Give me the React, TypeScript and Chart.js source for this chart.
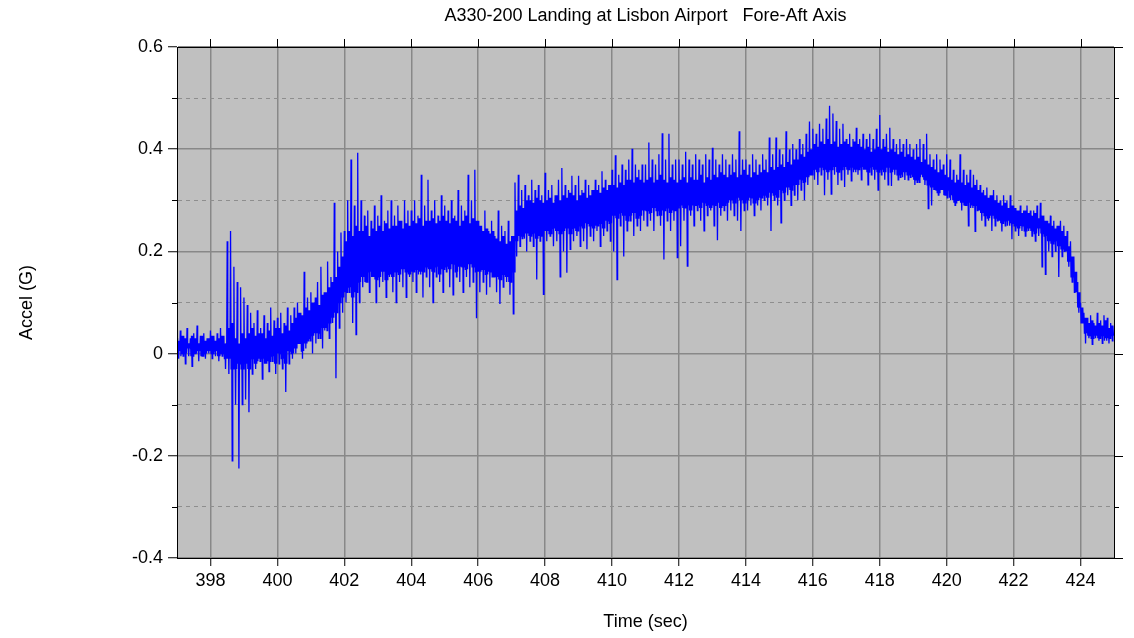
import React, { useEffect, useRef } from 'react';
import { Chart, registerables } from 'chart.js';

Chart.register(...registerables);

const TITLE = 'A330-200 Landing at Lisbon Airport   Fore-Aft Axis';
const X_LABEL = 'Time (sec)';
const Y_LABEL = 'Accel (G)';
const X_MIN = 397;
const X_MAX = 425;
const Y_MIN = -0.4;
const Y_MAX = 0.6;
const X_TICKS = [398, 400, 402, 404, 406, 408, 410, 412, 414, 416, 418, 420, 422, 424];
const Y_TICKS = [-0.4, -0.3, -0.2, -0.1, 0, 0.1, 0.2, 0.3, 0.4, 0.5, 0.6];

// sampling grid of the read-off trace (seconds)
const T_START = 397;
const T_STEP = 0.1;

// upper excursions (spikes) read per 0.1 s slot
const PEAKS = [
  0.03, 0.045, 0.035, 0.05, 0.03, 0.04, 0.055, 0.035, 0.04, 0.03, 0.045, 0.035, 0.04, 0.05, 0.035,
  0.22, 0.24, 0.17, 0.14, 0.13, 0.11, 0.095, 0.08,
  0.06, 0.085, 0.05, 0.075, 0.06, 0.09, 0.065, 0.07, 0.08, 0.06, 0.09, 0.075,
  0.09, 0.1, 0.08, 0.16, 0.11, 0.12, 0.1,
  0.14, 0.17, 0.12, 0.18, 0.15,
  0.295, 0.2, 0.237,
  0.24, 0.3, 0.38, 0.29, 0.393, 0.3,
  0.27, 0.28, 0.26, 0.29, 0.27, 0.31, 0.26, 0.28, 0.3, 0.27, 0.29, 0.26, 0.3, 0.28,
  0.28, 0.3, 0.27, 0.35, 0.29, 0.34, 0.28, 0.3, 0.27, 0.31, 0.29, 0.28, 0.3, 0.27, 0.32, 0.29, 0.28, 0.35, 0.3, 0.36,
  0.26, 0.25, 0.28, 0.24, 0.26, 0.23, 0.28, 0.25, 0.24, 0.26, 0.23,
  0.335, 0.35, 0.32, 0.33, 0.31, 0.34, 0.32, 0.33, 0.31,
  0.354, 0.32, 0.33, 0.31, 0.34, 0.363, 0.33, 0.32, 0.348, 0.33, 0.348, 0.32, 0.34, 0.33, 0.32, 0.34, 0.33, 0.357, 0.34, 0.33,
  0.36, 0.388, 0.35, 0.37, 0.36, 0.38, 0.401, 0.37, 0.36, 0.37,
  0.37, 0.413, 0.38, 0.37, 0.39, 0.431, 0.38, 0.43, 0.37, 0.38,
  0.38, 0.37, 0.395, 0.38, 0.37, 0.39, 0.38, 0.37, 0.39, 0.38, 0.403, 0.38, 0.37, 0.39, 0.38, 0.37, 0.39, 0.38, 0.435, 0.38,
  0.38, 0.37, 0.39, 0.38, 0.37, 0.39, 0.38, 0.423, 0.39, 0.423, 0.4, 0.39, 0.435, 0.4, 0.41, 0.4, 0.42, 0.41,
  0.43, 0.454, 0.44, 0.43, 0.45, 0.44, 0.46, 0.485, 0.47, 0.455, 0.44, 0.45,
  0.42, 0.43, 0.42, 0.442, 0.42, 0.43, 0.42, 0.43, 0.42, 0.44, 0.467,
  0.42, 0.43, 0.442, 0.42, 0.41, 0.42, 0.41, 0.42, 0.41, 0.4, 0.41, 0.42, 0.41, 0.43,
  0.39, 0.38, 0.39, 0.38, 0.37, 0.39, 0.38,
  0.36, 0.35, 0.39, 0.36, 0.35, 0.36, 0.35, 0.34,
  0.33, 0.32, 0.325, 0.31, 0.32, 0.31, 0.3, 0.31, 0.3, 0.31,
  0.29, 0.28, 0.29, 0.28, 0.29, 0.28, 0.28, 0.29,
  0.295, 0.27, 0.26, 0.27, 0.26, 0.25, 0.26, 0.25,
  0.24, 0.22, 0.19,
  0.14, 0.1,
  0.08, 0.07, 0.075, 0.06, 0.08, 0.065, 0.075, 0.07, 0.06,
];

// lower excursions (spikes) read per 0.1 s slot
const TROUGHS = [
  -0.01, 0.0, -0.02, -0.005, -0.025, 0.0, -0.015, -0.005, -0.01, 0.0, -0.01, -0.005, -0.015, -0.005, -0.03,
  -0.04, -0.21, -0.1, -0.225, -0.1, -0.09, -0.115, -0.04,
  -0.03, -0.01, -0.05, -0.02, -0.035, -0.015, -0.04, -0.02, -0.03, -0.075, -0.02, -0.01,
  0.0, 0.02, -0.01, 0.01, 0.03, 0.0, 0.02,
  0.04, 0.01, 0.05, 0.03, 0.06,
  -0.048, 0.05, 0.08,
  0.1, 0.12, 0.06, 0.037, 0.1, 0.13,
  0.14, 0.12, 0.15, 0.1, 0.13, 0.14, 0.11, 0.15, 0.12, 0.1, 0.14, 0.13, 0.11, 0.15,
  0.14, 0.12, 0.16, 0.11, 0.15, 0.13, 0.1, 0.15, 0.14, 0.12, 0.16, 0.13, 0.115, 0.15, 0.14, 0.12, 0.15, 0.13, 0.14, 0.069,
  0.12, 0.14, 0.115, 0.13, 0.15, 0.12, 0.097, 0.13, 0.14, 0.115, 0.078,
  0.19, 0.21, 0.23, 0.2, 0.22, 0.21, 0.145, 0.22, 0.116,
  0.22, 0.23, 0.21, 0.22, 0.15, 0.2, 0.158, 0.204, 0.22, 0.23, 0.21, 0.22, 0.204, 0.23, 0.22, 0.24, 0.21, 0.23, 0.24, 0.22,
  0.2, 0.145, 0.25, 0.19, 0.24, 0.26, 0.23, 0.25, 0.24, 0.26,
  0.25, 0.26, 0.24, 0.27, 0.25, 0.184, 0.26, 0.24, 0.26, 0.188,
  0.21, 0.26, 0.171, 0.27, 0.25, 0.28, 0.26, 0.24, 0.27, 0.28, 0.25, 0.222, 0.27, 0.28, 0.26, 0.28, 0.27, 0.26, 0.24, 0.28,
  0.28, 0.29, 0.27, 0.29, 0.28, 0.3, 0.29, 0.24, 0.3, 0.29, 0.256, 0.3, 0.31, 0.29, 0.31, 0.3, 0.32, 0.3,
  0.33, 0.35, 0.34, 0.33, 0.35, 0.31, 0.34, 0.312, 0.35, 0.33, 0.34, 0.326,
  0.35, 0.338, 0.36, 0.35, 0.34, 0.36, 0.33, 0.35, 0.34, 0.32, 0.35,
  0.34, 0.33, 0.328, 0.35, 0.34, 0.35, 0.34, 0.34, 0.35, 0.33, 0.34, 0.35, 0.33, 0.284,
  0.29, 0.32, 0.31, 0.32, 0.31, 0.32, 0.31,
  0.29, 0.3, 0.28, 0.29, 0.25, 0.29, 0.239, 0.28,
  0.26, 0.25, 0.26, 0.24, 0.25, 0.26, 0.239, 0.25, 0.26, 0.224,
  0.24, 0.23, 0.24, 0.23, 0.24, 0.23, 0.22, 0.23,
  0.17, 0.155, 0.2, 0.19, 0.2, 0.15, 0.19, 0.2,
  0.17, 0.14, 0.12,
  0.08, 0.06,
  0.02, 0.03, 0.018, 0.03, 0.025, 0.02, 0.03, 0.02, 0.025,
];

// upper edge of the dense (solid) part of the trace, per 0.1 s slot
const CORE_HI = [
  0.025, 0.035, 0.03, 0.02, 0.035, 0.03, 0.02, 0.035, 0.025, 0.03,
  0.035, 0.025, 0.03, 0.035, 0.02, 0.05, 0.06, 0.03, 0.02, 0.04,
  0.03, 0.04, 0.05, 0.035, 0.04, 0.04, 0.03, 0.045, 0.035, 0.05,
  0.05, 0.04, 0.055, 0.045, 0.06, 0.07, 0.08, 0.075, 0.09, 0.085,
  0.1, 0.11, 0.095, 0.115, 0.12, 0.13, 0.14, 0.15, 0.17, 0.19,
  0.22, 0.24, 0.23, 0.25, 0.24, 0.24, 0.25, 0.23, 0.245, 0.24,
  0.25, 0.24, 0.255, 0.245, 0.25, 0.25, 0.26, 0.245, 0.255, 0.25,
  0.26, 0.255, 0.265, 0.25, 0.26, 0.26, 0.265, 0.255, 0.26, 0.27,
  0.26, 0.255, 0.265, 0.26, 0.25, 0.26, 0.27, 0.255, 0.265, 0.26,
  0.25, 0.24, 0.245, 0.235, 0.24, 0.225, 0.22, 0.23, 0.215, 0.22,
  0.23, 0.28, 0.29, 0.285, 0.3, 0.3, 0.295, 0.305, 0.3, 0.295,
  0.3, 0.305, 0.295, 0.31, 0.3, 0.31, 0.305, 0.315, 0.31, 0.3,
  0.31, 0.315, 0.305, 0.31, 0.32, 0.32, 0.315, 0.325, 0.32, 0.33,
  0.33, 0.325, 0.335, 0.33, 0.34, 0.34, 0.335, 0.345, 0.34, 0.335,
  0.34, 0.345, 0.335, 0.34, 0.35, 0.34, 0.335, 0.345, 0.34, 0.335,
  0.34, 0.345, 0.335, 0.345, 0.34, 0.34, 0.35, 0.335, 0.345, 0.34,
  0.35, 0.345, 0.355, 0.35, 0.345, 0.35, 0.355, 0.345, 0.35, 0.36,
  0.35, 0.345, 0.355, 0.35, 0.355, 0.36, 0.355, 0.365, 0.36, 0.365,
  0.37, 0.365, 0.375, 0.37, 0.38, 0.38, 0.39, 0.385, 0.395, 0.4,
  0.41, 0.405, 0.415, 0.41, 0.42, 0.41, 0.415, 0.405, 0.41, 0.415,
  0.41, 0.405, 0.415, 0.41, 0.405, 0.4, 0.405, 0.395, 0.4, 0.405,
  0.4, 0.405, 0.395, 0.4, 0.395, 0.39, 0.395, 0.385, 0.39, 0.385,
  0.38, 0.385, 0.375, 0.38, 0.37, 0.365, 0.36, 0.355, 0.36, 0.35,
  0.345, 0.34, 0.335, 0.34, 0.335, 0.33, 0.335, 0.325, 0.33, 0.32,
  0.315, 0.31, 0.305, 0.31, 0.3, 0.295, 0.29, 0.295, 0.285, 0.29,
  0.285, 0.28, 0.275, 0.28, 0.275, 0.27, 0.275, 0.265, 0.27, 0.26,
  0.255, 0.25, 0.245, 0.25, 0.24, 0.23, 0.21, 0.19, 0.16, 0.12,
  0.09, 0.07, 0.06, 0.065, 0.055, 0.06, 0.055, 0.065, 0.05, 0.055,
];

// lower edge of the dense (solid) part of the trace, per 0.1 s slot
const CORE_LO = [
  0.005, -0.005, 0.0, 0.01, -0.005, 0.0, 0.005, -0.005, 0.0, 0.005,
  0.0, 0.005, -0.005, 0.0, -0.01, -0.01, -0.03, -0.03, -0.02, -0.03,
  -0.02, -0.03, -0.01, -0.02, -0.015, -0.01, -0.02, -0.015, -0.005, -0.02,
  0.0, -0.01, -0.02, 0.005, 0.0, 0.01, 0.02, 0.005, 0.02, 0.025,
  0.035, 0.04, 0.03, 0.05, 0.045, 0.06, 0.07, 0.08, 0.1, 0.11,
  0.12, 0.13, 0.11, 0.12, 0.14, 0.15, 0.14, 0.16, 0.15, 0.145,
  0.15, 0.16, 0.145, 0.155, 0.15, 0.16, 0.155, 0.165, 0.16, 0.155,
  0.16, 0.165, 0.155, 0.16, 0.17, 0.165, 0.16, 0.17, 0.155, 0.165,
  0.17, 0.165, 0.175, 0.16, 0.17, 0.17, 0.165, 0.175, 0.17, 0.16,
  0.16, 0.165, 0.155, 0.16, 0.15, 0.15, 0.145, 0.155, 0.15, 0.14,
  0.16, 0.22, 0.23, 0.225, 0.235, 0.23, 0.235, 0.225, 0.23, 0.24,
  0.24, 0.235, 0.245, 0.24, 0.235, 0.24, 0.245, 0.235, 0.245, 0.24,
  0.25, 0.245, 0.255, 0.25, 0.245, 0.25, 0.255, 0.245, 0.26, 0.255,
  0.27, 0.265, 0.275, 0.27, 0.26, 0.27, 0.275, 0.265, 0.27, 0.28,
  0.28, 0.275, 0.285, 0.28, 0.27, 0.28, 0.285, 0.275, 0.28, 0.285,
  0.29, 0.285, 0.29, 0.28, 0.29, 0.29, 0.285, 0.295, 0.29, 0.285,
  0.29, 0.295, 0.285, 0.29, 0.295, 0.3, 0.295, 0.305, 0.3, 0.295,
  0.3, 0.305, 0.295, 0.3, 0.305, 0.31, 0.305, 0.315, 0.31, 0.305,
  0.32, 0.315, 0.325, 0.32, 0.33, 0.33, 0.34, 0.335, 0.345, 0.35,
  0.36, 0.355, 0.365, 0.36, 0.355, 0.36, 0.365, 0.355, 0.36, 0.365,
  0.36, 0.365, 0.355, 0.36, 0.365, 0.36, 0.355, 0.365, 0.36, 0.355,
  0.36, 0.355, 0.365, 0.355, 0.36, 0.35, 0.345, 0.355, 0.35, 0.345,
  0.34, 0.335, 0.345, 0.34, 0.33, 0.325, 0.32, 0.315, 0.32, 0.31,
  0.305, 0.3, 0.295, 0.3, 0.295, 0.29, 0.295, 0.285, 0.29, 0.28,
  0.275, 0.27, 0.265, 0.27, 0.265, 0.26, 0.255, 0.26, 0.25, 0.255,
  0.25, 0.245, 0.25, 0.24, 0.245, 0.24, 0.235, 0.245, 0.235, 0.23,
  0.22, 0.215, 0.22, 0.21, 0.205, 0.2, 0.18, 0.15, 0.12, 0.09,
  0.06, 0.04, 0.035, 0.03, 0.035, 0.03, 0.035, 0.025, 0.03, 0.035,
];

const FONT = '"Liberation Sans", Arial, sans-serif';
const FS = 18;
const isMajorY = (v: number) => Math.abs(Math.round(v * 10)) % 2 === 0;

const framePlugin = {
  id: 'frame',
  beforeDraw(chart: any) {
    const { ctx, chartArea: a } = chart;
    ctx.save();
    ctx.fillStyle = '#c0c0c0';
    ctx.fillRect(a.left, a.top, a.right - a.left, a.bottom - a.top);
    ctx.restore();
  },
  afterDraw(chart: any) {
    const { ctx, chartArea: a, scales } = chart;
    ctx.save();
    ctx.strokeStyle = '#000';
    ctx.lineWidth = 1;
    ctx.beginPath();
    ctx.rect(Math.round(a.left) + 0.5, Math.round(a.top) + 0.5, Math.round(a.right - a.left), Math.round(a.bottom - a.top));
    ctx.stroke();
    ctx.beginPath();
    for (const v of X_TICKS) {
      const x = Math.round(scales.x.getPixelForValue(v)) + 0.5;
      ctx.moveTo(x, a.top);
      ctx.lineTo(x, a.top - 8);
    }
    for (const v of Y_TICKS) {
      const y = Math.round(scales.y.getPixelForValue(v)) + 0.5;
      const len = isMajorY(v) ? 9 : 5;
      ctx.moveTo(a.right, y);
      ctx.lineTo(a.right + len, y);
      if (!isMajorY(v)) {
        ctx.moveTo(a.left - 5, y);
        ctx.lineTo(a.left, y);
      }
    }
    ctx.stroke();
    ctx.restore();
  },
};

export default function App() {
  const ref = useRef<HTMLCanvasElement | null>(null);

  useEffect(() => {
    if (!ref.current) return;
    const points: { x: number; y: number }[] = [];
    const sub = T_STEP / 6;
    for (let i = 0; i < PEAKS.length; i++) {
      const t = T_START + i * T_STEP;
      const seq = [PEAKS[i], CORE_LO[i], CORE_HI[i], TROUGHS[i], CORE_HI[i], CORE_LO[i]];
      seq.forEach((y, k) => points.push({ x: t + k * sub, y }));
    }
    const chart = new Chart(ref.current, {
      type: 'line',
      data: {
        datasets: [
          {
            data: points,
            borderColor: '#0000ff',
            borderWidth: 1.3,
            pointRadius: 0,
            tension: 0,
            fill: false,
          },
        ],
      },
      options: {
        animation: false,
        responsive: false,
        devicePixelRatio: 1,
        events: [],
        layout: { padding: { top: 0, right: 20, bottom: 0, left: 0 } },
        plugins: {
          legend: { display: false },
          tooltip: { enabled: false },
          title: {
            display: true,
            text: TITLE,
            fullSize: false,
            color: '#000',
            font: { family: FONT, size: FS, weight: 'normal' },
            padding: { top: 5.2, bottom: 20.2 },
          },
        },
        scales: {
          x: {
            type: 'linear',
            min: X_MIN,
            max: X_MAX,
            afterBuildTicks: (s: any) => {
              s.ticks = X_TICKS.map((v) => ({ value: v }));
            },
            afterFit: (s: any) => {
              s.height = 80;
            },
            ticks: {
              autoSkip: false,
              maxRotation: 0,
              padding: 4,
              color: '#000',
              font: { family: FONT, size: FS },
              callback: (v: any) => String(v),
            },
            grid: {
              color: '#888',
              lineWidth: 1.5,
              tickLength: 8,
              tickColor: '#000',
              tickWidth: 1,
            },
            border: { display: true, color: '#000', width: 1 },
            title: {
              display: true,
              text: X_LABEL,
              color: '#000',
              font: { family: FONT, size: FS },
              padding: { top: 0, bottom: 5.2 },
            },
          },
          y: {
            type: 'linear',
            min: Y_MIN,
            max: Y_MAX,
            afterBuildTicks: (s: any) => {
              s.ticks = Y_TICKS.map((v) => ({ value: v }));
            },
            afterFit: (s: any) => {
              s.width = 177;
            },
            ticks: {
              autoSkip: false,
              padding: 5,
              color: '#000',
              font: { family: FONT, size: FS },
              callback: (v: any) => {
                const n = Number(v);
                if (!isMajorY(n)) return '';
                const r = Math.round(n * 10) / 10;
                return r === 0 ? '0' : r.toFixed(1);
              },
            },
            grid: {
              color: (c: any) => (c.tick && !isMajorY(c.tick.value) ? '#8e8e8e' : '#888'),
              lineWidth: (c: any) => (c.tick && !isMajorY(c.tick.value) ? 1 : 1.5),
              tickLength: 9,
              tickColor: (c: any) => (c.tick && !isMajorY(c.tick.value) ? 'rgba(0,0,0,0)' : '#000'),
              tickWidth: 1,
            },
            border: {
              display: true,
              color: '#000',
              width: 1,
              dash: (c: any) => (c.tick && !isMajorY(c.tick.value) ? [4, 4] : []),
            },
            title: {
              display: true,
              text: Y_LABEL,
              color: '#000',
              font: { family: FONT, size: FS },
              padding: { top: 16.2, bottom: 0 },
            },
          },
        },
      },
      plugins: [framePlugin],
    } as any);
    return () => chart.destroy();
  }, []);

  return (
    <div style={{ position: 'absolute', left: 0, top: 0, width: 1134, height: 638, background: '#fff' }}>
      <canvas ref={ref} width={1134} height={638} style={{ display: 'block', width: 1134, height: 638 }} />
    </div>
  );
}
